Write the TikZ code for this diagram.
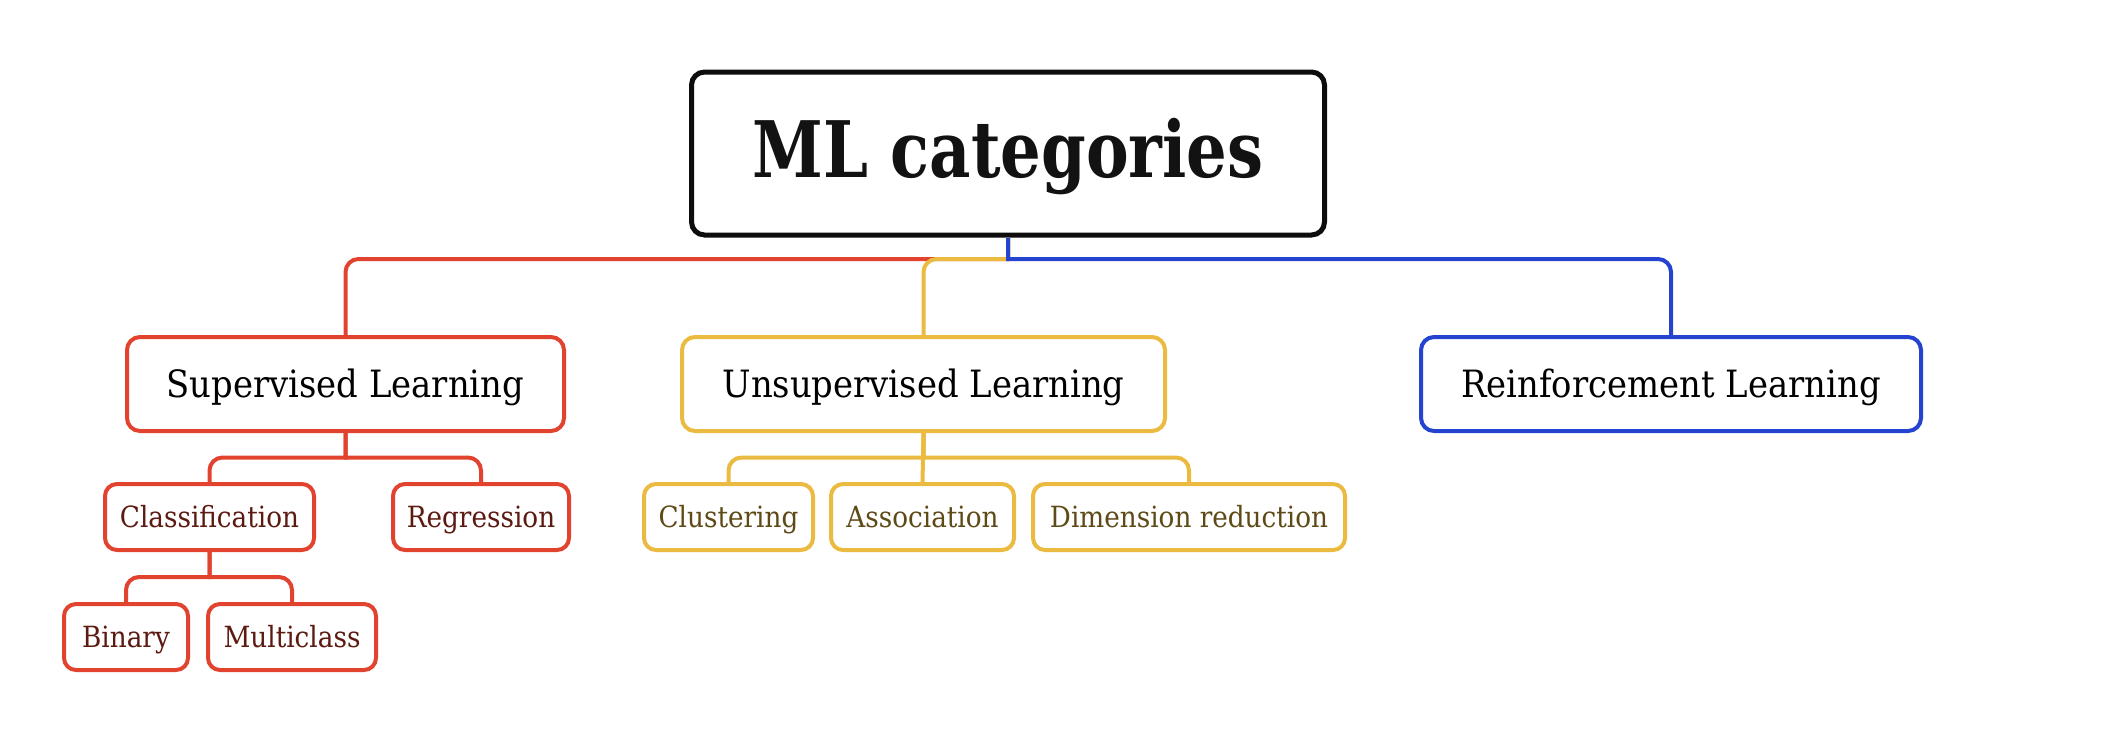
\documentclass[tikz,border=0pt]{standalone}
\usepackage{fontspec}
\setmainfont{DejaVu Serif}[FakeStretch=0.9]
\newfontfamily\titlefont{DejaVu Serif}[FakeStretch=0.82]
\usetikzlibrary{positioning}
\definecolor{SupColor}{RGB}{226,67,47}
\definecolor{UnsupColor}{RGB}{235,186,64}
\definecolor{ReinfColor}{RGB}{36,68,208}
\definecolor{SupText}{RGB}{92,26,16}
\definecolor{UnsupText}{RGB}{94,74,22}

\begin{document}
\begin{tikzpicture}[x=0.5pt, y=-0.5pt,
    box/.style={draw, rounded corners=6.5pt, line width=2pt, fill=white, inner sep=0pt},
    topbox/.style={box, minimum height=47pt, text height=16pt, text depth=2.6pt,
                   font=\fontsize{18.8}{22}\selectfont},
    leafbox/.style={box, rounded corners=6pt, minimum height=33pt, text height=12pt, text depth=2pt,
                    font=\fontsize{14.6}{17}\selectfont},
    link/.style={line width=2pt}]
  \useasboundingbox (0,0) rectangle (2104,744);

  % root
  \node[box, draw=black!95, line width=2.5pt, minimum width=316.5pt, minimum height=81.5pt,
        text height=29pt, text depth=5.5pt,
        font=\titlefont\bfseries\fontsize{39}{43}\selectfont, text=black!93] (root) at (1008,153.5) {ML categories};

  % main branches
  \node[topbox, draw=SupColor, minimum width=218.5pt] (sup) at (345.5,384) {Supervised Learning};
  \node[topbox, draw=UnsupColor, minimum width=241.5pt] (unsup) at (923.5,384) {Unsupervised Learning};
  \node[topbox, draw=ReinfColor, minimum width=250pt] (reinf) at (1671,384) {Reinforcement Learning};

  % supervised leaves
  \node[leafbox, draw=SupColor, text=SupText, minimum width=104.5pt] (class) at (209.5,517) {Classification};
  \node[leafbox, draw=SupColor, text=SupText, minimum width=88pt] (regr) at (481,517) {Regression};
  \node[leafbox, draw=SupColor, text=SupText, minimum width=62pt] (binary) at (126,637) {Binary};
  \node[leafbox, draw=SupColor, text=SupText, minimum width=84pt] (multi) at (292,637) {Multiclass};

  % unsupervised leaves
  \node[leafbox, draw=UnsupColor, text=UnsupText, minimum width=84.5pt] (clust) at (728.5,517) {Clustering};
  \node[leafbox, draw=UnsupColor, text=UnsupText, minimum width=91.5pt] (assoc) at (922.5,517) {Association};
  \node[leafbox, draw=UnsupColor, text=UnsupText, minimum width=156pt] (dimred) at (1189,517) {Dimension reduction};

  % bus levels
  \coordinate (bus0) at (1008,259);
  \coordinate (bus1) at (345.5,457.5);
  \coordinate (bus2) at (923.5,457.5);
  \coordinate (bus3) at (209.5,577);

  % connectors
  \draw[link, SupColor] (root.south) -- (bus0) [rounded corners=6.5pt] -| (sup.north);
  \draw[link, UnsupColor] (root.south) -- (bus0) [rounded corners=6.5pt] -| (unsup.north);
  \draw[link, ReinfColor] (root.south) -- (bus0) [rounded corners=6.5pt] -| (reinf.north);

  \draw[link, SupColor] (sup.south) -- (bus1) [rounded corners=6.5pt] -| (class.north);
  \draw[link, SupColor] (sup.south) -- (bus1) [rounded corners=6.5pt] -| (regr.north);
  \draw[link, SupColor] (class.south) -- (bus3) [rounded corners=6.5pt] -| (binary.north);
  \draw[link, SupColor] (class.south) -- (bus3) [rounded corners=6.5pt] -| (multi.north);

  \draw[link, UnsupColor] (unsup.south) -- (bus2) [rounded corners=6.5pt] -| (clust.north);
  \draw[link, UnsupColor] (unsup.south) -- (assoc.north);
  \draw[link, UnsupColor] (unsup.south) -- (bus2) [rounded corners=6.5pt] -| (dimred.north);
\end{tikzpicture}
\end{document}
